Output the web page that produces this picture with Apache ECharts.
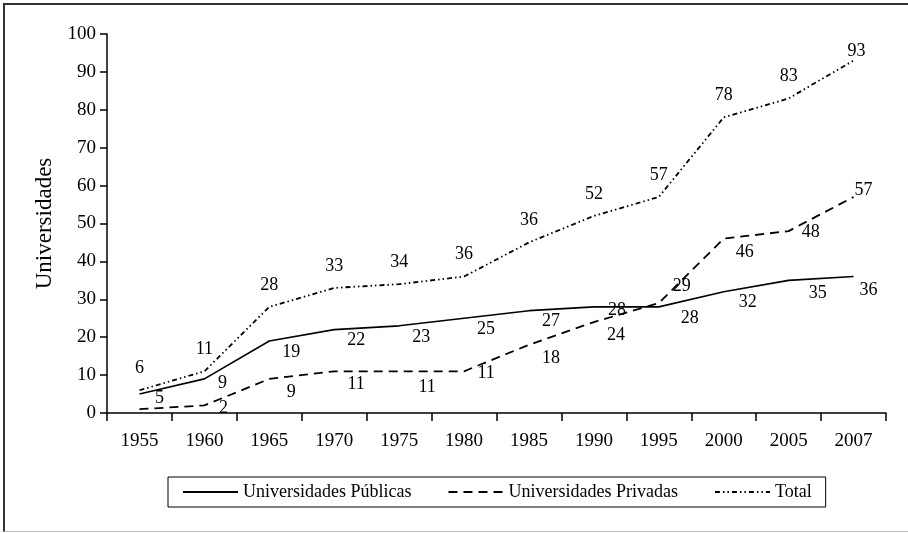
<!DOCTYPE html>
<html>
<head>
<meta charset="utf-8">
<script src="https://cdn.jsdelivr.net/npm/echarts@6/dist/echarts.min.js"></script>
<style>
  html, body { margin: 0; padding: 0; background: #fff; }
  #chart { position: absolute; left: 0; top: 0; width: 908px; height: 533px; }
  #frame {
    position: absolute; left: 3px; top: 3px; width: 910px; height: 526px;
    border-left: 2px solid #333; border-top: 2px solid #333; border-bottom: 1px solid #bbb;
    pointer-events: none;
  }
</style>
</head>
<body>
<div id="chart"></div>
<div id="frame"></div>
<script>
// Universidades por año
const years = ['1955', '1960', '1965', '1970', '1975', '1980', '1985', '1990', '1995', '2000', '2005', '2007'];
const publicas = [5, 9, 19, 22, 23, 25, 27, 28, 28, 32, 35, 36];
const privadas = [1, 2, 9, 11, 11, 11, 18, 24, 29, 46, 48, 57];
const total = [6, 11, 28, 33, 34, 36, 45, 52, 57, 78, 83, 93];
// printed labels (the source prints 36 for 1985 total, 1955 private unlabeled)
const publicasLabels = ['5', '9', '19', '22', '23', '25', '27', '28', '28', '32', '35', '36'];
const privadasLabels = ['', '2', '9', '11', '11', '11', '18', '24', '29', '46', '48', '57'];
const totalLabels = ['6', '11', '28', '33', '34', '36', '36', '52', '57', '78', '83', '93'];

const FONT = '"Liberation Serif", "DejaVu Serif", serif';

// label offsets (px) relative to each point
const PUB_OFFSETS = { 0: [20, 4], 1: [18, 4], 7: [23, 3], 8: [31, 11], 9: [24, 11], 10: [29, 13], 11: [15, 14] };
const PRIV_OFFSETS = { 1: [19, 3], 4: [28, 16], 5: [22, 2], 8: [23, -17], 9: [21, 14], 10: [22, 1], 11: [10, -7] };
const TOT_OFFSETS = { 11: [3, -9] };

function buildData(values, labels, offsets, def) {
  return values.map((v, i) => ({
    value: v,
    label: {
      show: labels[i] !== '',
      offset: offsets[i] || def,
      formatter: labels[i]
    }
  }));
}

function lineSeries(name, values, labels, offsets, def, type, width) {
  return {
    name,
    type: 'line',
    symbol: 'circle',
    symbolSize: 0,
    showSymbol: true,
    smooth: false,
    lineStyle: { color: '#000', width, type },
    itemStyle: { color: '#000' },
    label: {
      show: true,
      position: 'inside',
      color: '#000',
      fontFamily: FONT,
      fontSize: 18
    },
    emphasis: { disabled: true },
    data: buildData(values, labels, offsets, def)
  };
}

const chart = echarts.init(document.getElementById('chart'));

chart.setOption({
  animation: false,
  backgroundColor: '#fff',
  grid: { left: 107, right: 22, top: 34, bottom: 120 },
  legend: {
    left: 168,
    top: 477,
    itemWidth: 55,
    itemHeight: 14,
    itemGap: 36,
    padding: [6, 14, 6, 14],
    borderColor: '#000',
    borderWidth: 1,
    itemStyle: { opacity: 0 },
    textStyle: { color: '#000', fontFamily: FONT, fontSize: 18 },
    data: ['Universidades Públicas', 'Universidades Privadas', 'Total']
  },
  xAxis: {
    type: 'category',
    data: years,
    boundaryGap: true,
    axisLine: { lineStyle: { color: '#000', width: 1.5 } },
    axisTick: { show: true, length: 8, inside: false, lineStyle: { color: '#000', width: 1.5 } },
    axisLabel: { color: '#000', fontFamily: FONT, fontSize: 19, margin: 19 },
    splitLine: { show: false }
  },
  yAxis: {
    type: 'value',
    min: 0,
    max: 100,
    interval: 10,
    name: 'Universidades',
    nameLocation: 'middle',
    nameGap: 51,
    nameRotate: 90,
    nameTextStyle: { color: '#000', fontFamily: FONT, fontSize: 23 },
    axisLine: { show: true, lineStyle: { color: '#000', width: 1.5 } },
    axisTick: { show: true, length: 7, lineStyle: { color: '#000', width: 1.5 } },
    axisLabel: { color: '#000', fontFamily: FONT, fontSize: 19, margin: 11 },
    splitLine: { show: false }
  },
  series: [
    lineSeries('Universidades Públicas', publicas, publicasLabels, PUB_OFFSETS, [22, 11], 'solid', 1.6),
    lineSeries('Universidades Privadas', privadas, privadasLabels, PRIV_OFFSETS, [22, 13], [9, 6], 1.8),
    lineSeries('Total', total, totalLabels, TOT_OFFSETS, [0, -22], [5, 3, 1.5, 3, 1.5, 3], 1.8)
  ]
});
</script>
</body>
</html>
